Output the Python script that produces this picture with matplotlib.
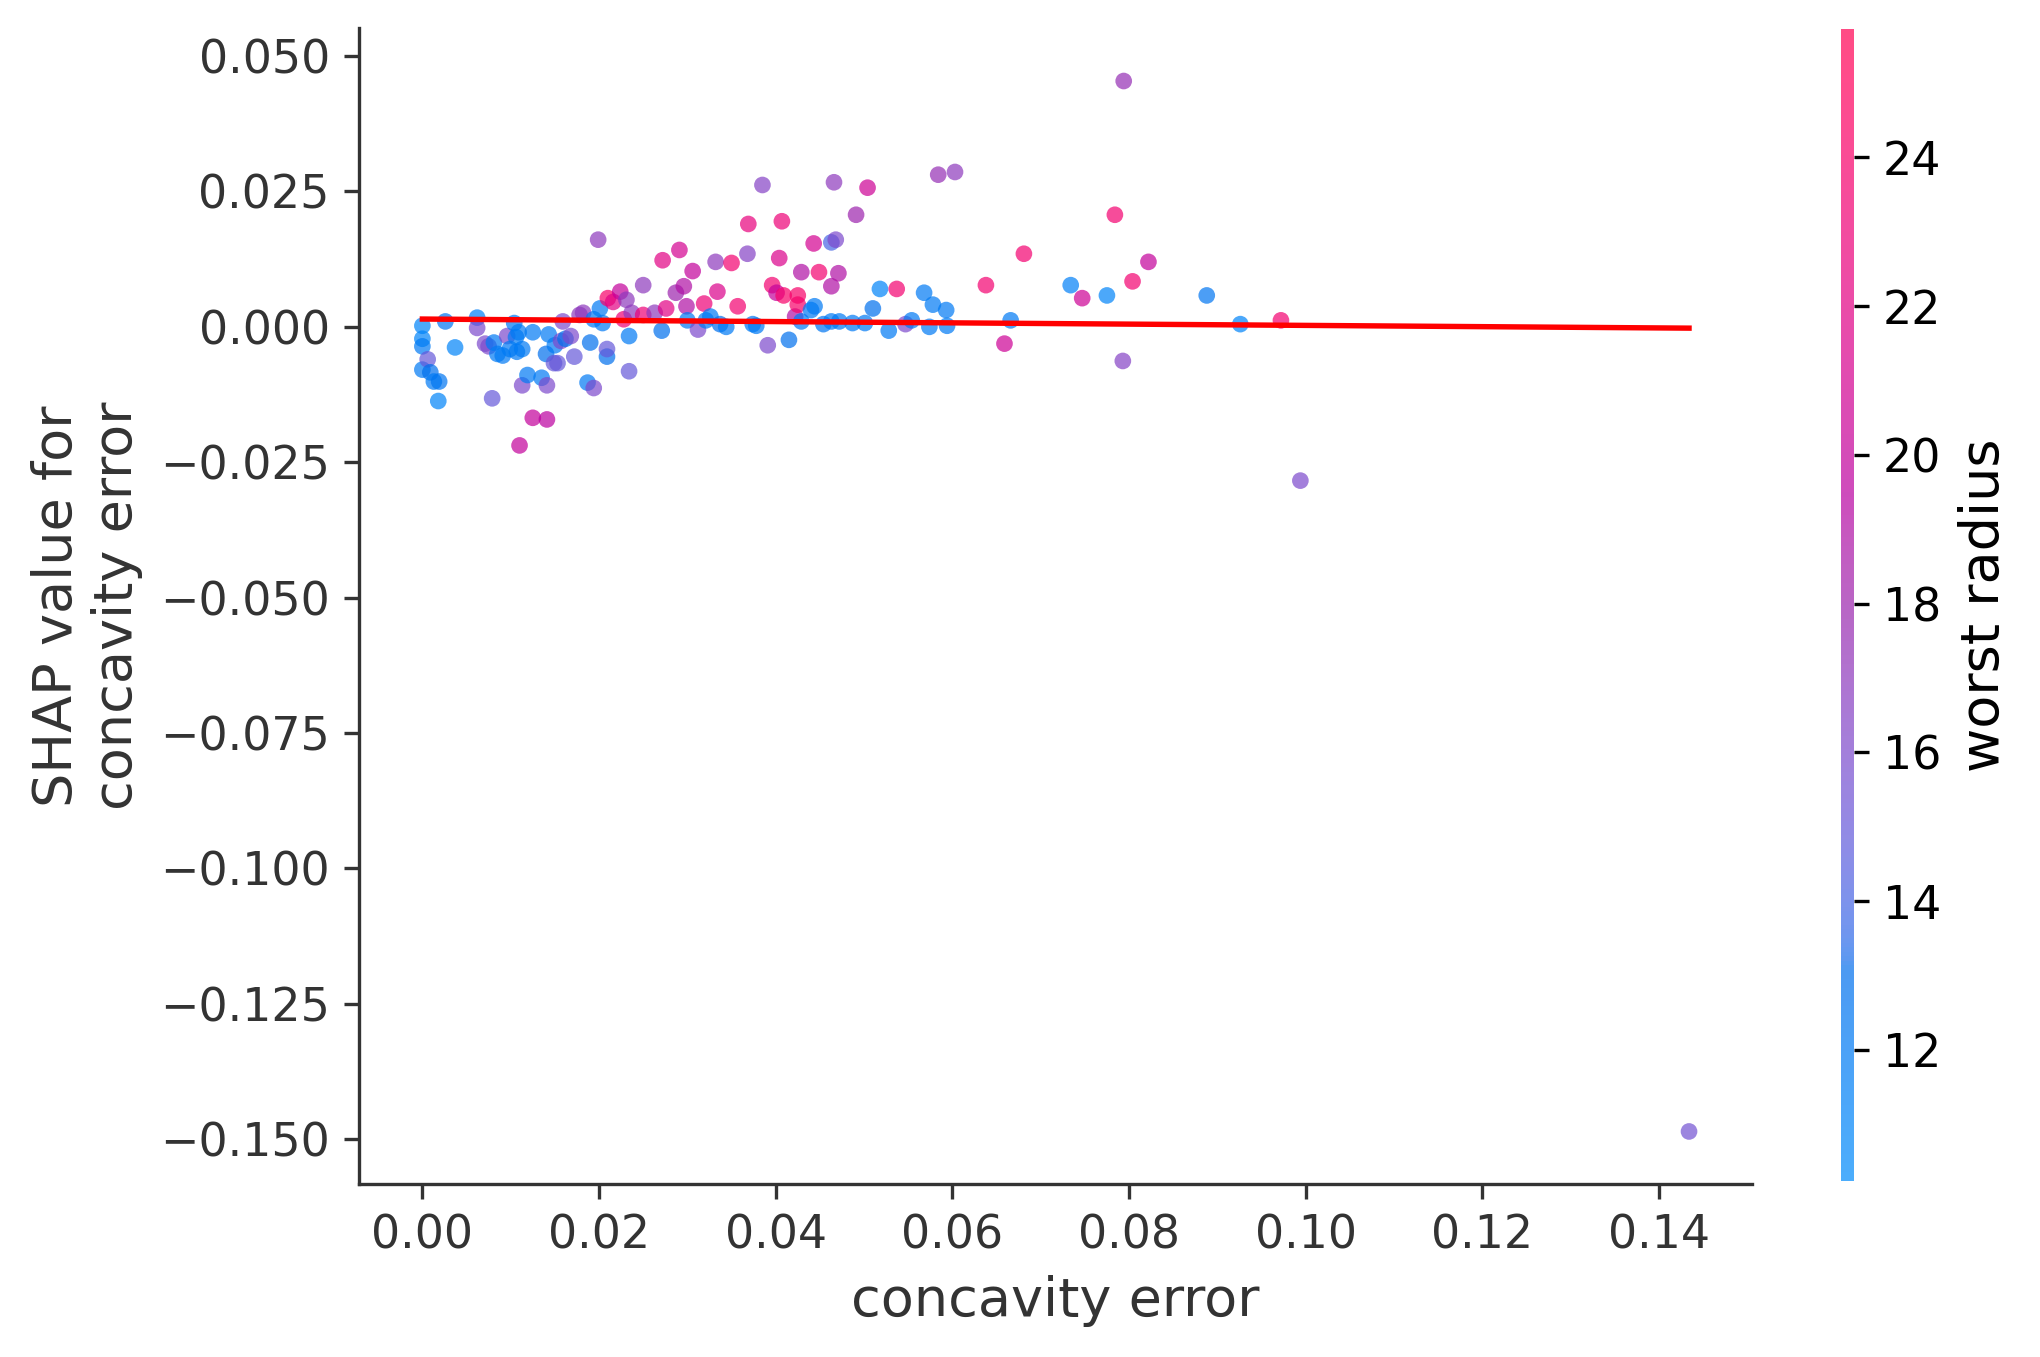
import numpy as np
import matplotlib
matplotlib.use("Agg")
import matplotlib.pyplot as plt
from matplotlib.colors import LinearSegmentedColormap

# ---------------- data ----------------
concavity_error = [
    0.0000, 0.0000, 0.0000, 0.0000, 0.0006, 0.0009, 0.0013, 0.0019, 0.0018, 0.0026,
    0.0037, 0.0062, 0.0062, 0.0071, 0.0075, 0.0079, 0.0081, 0.0085, 0.0091, 0.0096,
    0.0099, 0.0104, 0.0107, 0.0106, 0.0109, 0.0113, 0.0113, 0.0119, 0.0125, 0.0125,
    0.0110, 0.0135, 0.0140, 0.0141, 0.0141, 0.0143, 0.0149, 0.0150, 0.0153, 0.0157,
    0.0159, 0.0162, 0.0168, 0.0172, 0.0178, 0.0182, 0.0187, 0.0194, 0.0190, 0.0194,
    0.0199, 0.0201, 0.0204, 0.0209, 0.0209, 0.0210, 0.0216, 0.0224, 0.0228, 0.0231,
    0.0234, 0.0234, 0.0237, 0.0250, 0.0250, 0.0263, 0.0271, 0.0272, 0.0276, 0.0287,
    0.0291, 0.0296, 0.0299, 0.0300, 0.0306, 0.0312, 0.0319, 0.0321, 0.0326, 0.0332,
    0.0334, 0.0337, 0.0344, 0.0350, 0.0357, 0.0368, 0.0369, 0.0374, 0.0378, 0.0385,
    0.0391, 0.0396, 0.0401, 0.0404, 0.0407, 0.0409, 0.0415, 0.0422, 0.0425, 0.0425,
    0.0429, 0.0429, 0.0440, 0.0444, 0.0443, 0.0449, 0.0454, 0.0463, 0.0463, 0.0468,
    0.0466, 0.0471, 0.0463, 0.0472, 0.0491, 0.0504, 0.0487, 0.0501, 0.0510, 0.0518,
    0.0528, 0.0537, 0.0547, 0.0554, 0.0568, 0.0574, 0.0578, 0.0584, 0.0593, 0.0594,
    0.0603, 0.0638, 0.0659, 0.0666, 0.0681, 0.0734, 0.0747, 0.0775, 0.0784, 0.0794,
    0.0793, 0.0804, 0.0822, 0.0888, 0.0926, 0.0972, 0.0994, 0.1434,
]
shap_values = [
    0.0002, -0.0022, -0.0036, -0.0079, -0.0060, -0.0084, -0.0101, -0.0101, -0.0137, 0.0010,
    -0.0038, 0.0017, -0.0002, -0.0031, -0.0036, -0.0132, -0.0029, -0.0050, -0.0053, -0.0017,
    -0.0041, 0.0007, -0.0046, -0.0019, -0.0010, -0.0108, -0.0041, -0.0089, -0.0168, -0.0010,
    -0.0219, -0.0094, -0.0050, -0.0171, -0.0108, -0.0014, -0.0067, -0.0034, -0.0067, -0.0026,
    0.0010, -0.0022, -0.0017, -0.0055, 0.0022, 0.0026, -0.0103, -0.0113, -0.0029, 0.0014,
    0.0161, 0.0034, 0.0007, -0.0055, -0.0041, 0.0053, 0.0046, 0.0065, 0.0014, 0.0050,
    -0.0082, -0.0017, 0.0026, 0.0077, 0.0022, 0.0026, -0.0007, 0.0123, 0.0034, 0.0063,
    0.0142, 0.0075, 0.0038, 0.0012, 0.0103, -0.0005, 0.0043, 0.0012, 0.0019, 0.0120,
    0.0065, 0.0005, 0.0000, 0.0118, 0.0038, 0.0135, 0.0190, 0.0005, 0.0002, 0.0262,
    -0.0034, 0.0077, 0.0063, 0.0127, 0.0195, 0.0058, -0.0024, 0.0019, 0.0058, 0.0041,
    0.0010, 0.0101, 0.0031, 0.0038, 0.0154, 0.0101, 0.0005, 0.0075, 0.0156, 0.0161,
    0.0267, 0.0099, 0.0010, 0.0010, 0.0207, 0.0257, 0.0007, 0.0007, 0.0034, 0.0070,
    -0.0007, 0.0070, 0.0005, 0.0012, 0.0063, 0.0000, 0.0041, 0.0281, 0.0031, 0.0002,
    0.0286, 0.0077, -0.0031, 0.0012, 0.0135, 0.0077, 0.0053, 0.0058, 0.0207, 0.0454,
    -0.0063, 0.0084, 0.0120, 0.0058, 0.0005, 0.0012, -0.0284, -0.1486,
]
worst_radius = [
    11.0, 11.0, 12.0, 12.0, 15.0, 13.0, 12.0, 12.5, 11.0, 12.5,
    11.0, 11.5, 16.0, 16.0, 16.0, 15.0, 12.0, 12.0, 12.0, 16.0,
    12.0, 12.0, 12.0, 12.0, 12.0, 16.0, 12.0, 12.0, 20.0, 12.0,
    20.0, 12.0, 13.0, 19.5, 16.0, 12.0, 15.0, 12.0, 15.0, 16.0,
    16.0, 13.0, 16.0, 15.0, 17.0, 17.0, 12.0, 16.0, 13.0, 12.0,
    17.0, 12.0, 12.0, 13.0, 15.0, 24.0, 22.0, 20.0, 23.0, 17.0,
    15.0, 12.0, 17.0, 17.0, 23.0, 17.0, 13.0, 22.0, 22.0, 18.0,
    21.0, 19.0, 19.0, 12.0, 20.0, 16.0, 23.0, 12.0, 12.0, 17.0,
    21.5, 13.0, 12.0, 23.5, 23.5, 16.5, 22.5, 12.0, 12.0, 16.5,
    16.0, 23.5, 20.0, 21.5, 23.0, 24.0, 13.0, 19.0, 24.0, 24.0,
    12.0, 19.0, 12.0, 12.0, 21.0, 23.5, 12.5, 19.0, 14.0, 16.0,
    17.0, 19.0, 12.0, 12.0, 18.0, 20.5, 12.0, 12.0, 13.0, 11.0,
    12.0, 23.5, 16.0, 12.0, 12.0, 12.0, 12.0, 17.5, 12.0, 12.0,
    17.0, 23.5, 20.5, 12.0, 23.5, 11.5, 20.5, 11.0, 23.5, 17.5,
    16.5, 23.5, 20.0, 12.5, 11.0, 23.5, 16.0, 15.5,
]
trend_x = [0.0, 0.1434]
trend_y = [0.00144, -0.00024]

color_range = [10.23, 25.73]
cbar_ticks = [12, 14, 16, 18, 20, 22, 24]
x_ticks = [0.00, 0.02, 0.04, 0.06, 0.08, 0.10, 0.12, 0.14]
y_ticks = [-0.150, -0.125, -0.100, -0.075, -0.050, -0.025, 0.000, 0.025, 0.050]


# ---------------- SHAP-like red_blue colormap (LCH interpolation) ----------------
def lch2rgb(l, c, h):
    a = c * np.cos(h)
    b = c * np.sin(h)
    fy = (l + 16.0) / 116.0
    fx = a / 500.0 + fy
    fz = fy - b / 200.0

    def finv(t):
        t3 = t ** 3
        return t3 if t3 > 0.008856 else (t - 16.0 / 116.0) / 7.787

    X = 0.95047 * finv(fx)
    Y = 1.0 * finv(fy)
    Z = 1.08883 * finv(fz)
    M = np.array([[3.2406, -1.5372, -0.4986],
                  [-0.9689, 1.8758, 0.0415],
                  [0.0557, -0.2040, 1.0570]])
    rgb = M @ np.array([X, Y, Z])
    out = []
    for v in rgb:
        v = max(v, 0.0)
        v = 1.055 * v ** (1 / 2.4) - 0.055 if v > 0.0031308 else 12.92 * v
        out.append(min(max(v, 0.0), 1.0))
    return out


blue_lch = [54., 70., 4.6588]
l_mid = 40.
red_lch = [54., 90., 0.35470565 + 2 * np.pi]
nsteps = 100
l_vals = list(np.linspace(blue_lch[0], l_mid, nsteps // 2)) + list(np.linspace(l_mid, red_lch[0], nsteps // 2))
c_vals = np.linspace(blue_lch[1], red_lch[1], nsteps)
h_vals = np.linspace(blue_lch[2], red_lch[2], nsteps)
cols = [lch2rgb(l, c, h) for l, c, h in zip(l_vals, c_vals, h_vals)]
red_blue = LinearSegmentedColormap.from_list("red_blue", list(zip(np.linspace(0, 1, nsteps), cols)))

# ---------------- figure ----------------
DPI = 300
fig = plt.figure(figsize=(2040 / DPI, 1357 / DPI), dpi=DPI)
ax = fig.add_axes([0.176, 0.1275, 0.683, 0.8515])
cax = fig.add_axes([0.9024, 0.1294, 0.0064, 0.8495])

sc = ax.scatter(concavity_error, shap_values, c=worst_radius, cmap=red_blue,
                vmin=color_range[0], vmax=color_range[1], s=16, linewidths=0,
                alpha=0.7, zorder=2)
ax.plot(trend_x, trend_y, color="red", lw=1.3, zorder=3)

ax.set_xticks(x_ticks)
ax.set_xticklabels([f"{v:.2f}" for v in x_ticks])
ax.set_yticks(y_ticks)
ax.set_yticklabels([f"{v:.3f}".replace("-", "\u2212") for v in y_ticks])
ax.margins(0.05)

for side in ["top", "right"]:
    ax.spines[side].set_visible(False)
for side in ["left", "bottom"]:
    ax.spines[side].set_color("#333333")
    ax.spines[side].set_linewidth(0.8)
ax.tick_params(axis="both", colors="#333333", labelsize=11, labelcolor="#333333")
ax.set_xlabel("concavity error", fontsize=13, color="#333333")
ax.set_ylabel("SHAP value for\nconcavity error", fontsize=13, color="#333333")

cb = fig.colorbar(sc, cax=cax, ticks=cbar_ticks)
cb.outline.set_visible(False)
cb.ax.tick_params(labelsize=11, length=3.5)
cb.set_label("worst radius", size=13)

fig.savefig("out.png", dpi=DPI)
